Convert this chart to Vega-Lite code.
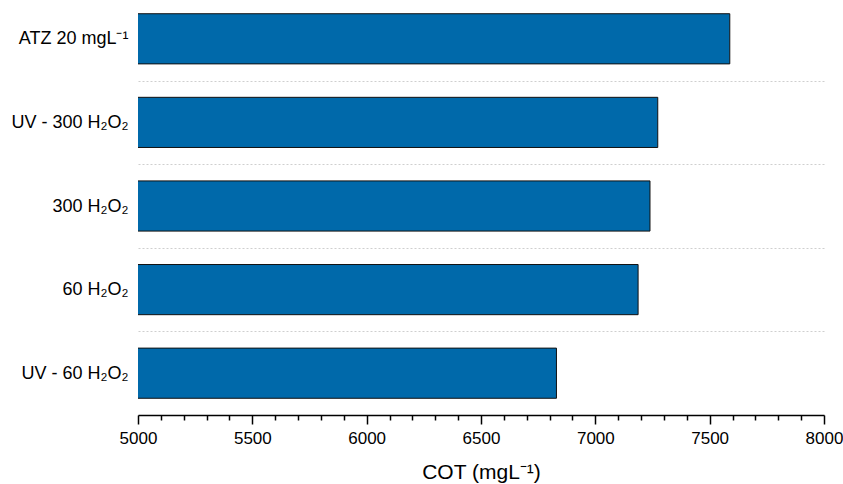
{
  "$schema": "https://vega.github.io/schema/vega-lite/v6.json",
  "width": 686,
  "height": 418,
  "autosize": {"type": "none"},
  "padding": {"left": 138, "top": -3, "right": 19, "bottom": 69},
  "background": "white",
  "config": {
    "view": {"stroke": null},
    "font": "Liberation Sans"
  },
  "data": {
    "values": [
      {"amostra": "ATZ 20 mgL⁻¹", "cot": 7588},
      {"amostra": "UV - 300 H₂O₂", "cot": 7273},
      {"amostra": "300 H₂O₂", "cot": 7239},
      {"amostra": "60 H₂O₂", "cot": 7187},
      {"amostra": "UV - 60 H₂O₂", "cot": 6830}
    ]
  },
  "mark": {"type": "bar", "color": "#0069AA", "stroke": "#111111", "strokeWidth": 1, "clip": true, "height": {"band": 0.6}},
  "encoding": {
    "y": {
      "field": "amostra",
      "type": "nominal",
      "sort": null,
      "scale": {"paddingInner": 0, "paddingOuter": 0},
      "axis": {
        "title": null,
        "domain": false,
        "ticks": false,
        "grid": true,
        "tickBand": "extent",
        "gridDash": [2, 2],
        "gridColor": "#cfcfcf",
        "gridWidth": 1,
        "labelFontSize": 18,
        "labelColor": "#000000",
        "labelPadding": 10,
        "labelLimit": 200
      }
    },
    "x": {
      "field": "cot",
      "type": "quantitative",
      "scale": {"domain": [5000, 8000], "nice": false, "zero": false},
      "axis": {
        "title": "COT (mgL⁻¹)",
        "titleFontSize": 21,
        "titleFontWeight": "normal",
        "titleColor": "#000000",
        "titlePadding": 15,
        "values": [5000, 5100, 5200, 5300, 5400, 5500, 5600, 5700, 5800, 5900, 6000, 6100, 6200, 6300, 6400, 6500, 6600, 6700, 6800, 6900, 7000, 7100, 7200, 7300, 7400, 7500, 7600, 7700, 7800, 7900, 8000],
        "format": "d",
        "labelExpr": "datum.value % 500 === 0 ? datum.label : ''",
        "labelOverlap": false,
        "labelFlush": false,
        "labelFontSize": 17,
        "labelColor": "#000000",
        "labelPadding": 6,
        "grid": false,
        "domainColor": "#000000",
        "domainWidth": 1.5,
        "tickColor": "#000000",
        "tickWidth": 1.5,
        "tickSize": {"condition": {"test": "datum.value % 500 === 0", "value": 9}, "value": 5}
      }
    }
  }
}
